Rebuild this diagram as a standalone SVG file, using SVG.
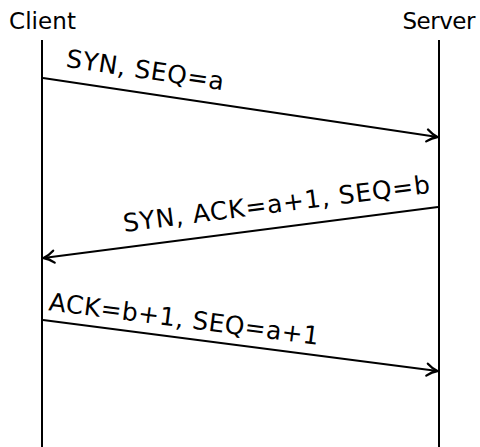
<svg xmlns="http://www.w3.org/2000/svg" width="480" height="447" viewBox="0 0 480 447">
<style>
.title{font-family:"DejaVu Sans",sans-serif;font-size:23px;fill:#000;text-anchor:middle}
.lbl{font-family:"DejaVu Sans",sans-serif;font-size:25px;fill:#000;text-anchor:middle}
.life{stroke:#000;stroke-width:2;fill:none}
.msg{stroke:#000;stroke-width:2;fill:none;marker-end:url(#arr)}
</style>
<defs>
<marker id="arr" markerUnits="userSpaceOnUse" markerWidth="18" markerHeight="18" viewBox="-14 -9 16 18" refX="0" refY="0" orient="auto">
<path d="M-10.5,-6 C-6.5,-2.6 -2.8,-0.8 0,0 C-2.8,0.8 -6.5,2.6 -10.5,6" fill="none" stroke="#000" stroke-width="2.3" stroke-linecap="round" stroke-linejoin="round"/>
</marker>
</defs>
<g id="client">
<text class="title" x="42.5" y="29" textLength="67" lengthAdjust="spacing">Client</text>
<line class="life" x1="42" y1="40" x2="42" y2="447"/>
</g>
<g id="server">
<text class="title" x="439" y="29" textLength="73" lengthAdjust="spacing">Server</text>
<line class="life" x1="439" y1="40" x2="439" y2="447"/>
</g>
<g id="connectors">
<line class="msg" x1="43" y1="78" x2="437.5" y2="137"/>
<line class="msg" x1="438" y1="207" x2="43.5" y2="258"/>
<line class="msg" x1="43" y1="320" x2="437.5" y2="371"/>
</g>
<g id="labels">
<text class="lbl" x="144" y="78.5" transform="rotate(8.45 144 78.5)" textLength="159" lengthAdjust="spacing">SYN, SEQ=a</text>
<text class="lbl" x="277.5" y="212.3" transform="rotate(-7.32 277.5 212.3)" textLength="309" lengthAdjust="spacing">SYN, ACK=a+1, SEQ=b</text>
<text class="lbl" x="183" y="327.5" transform="rotate(7.32 183 327.5)" textLength="272" lengthAdjust="spacing">ACK=b+1, SEQ=a+1</text>
</g>
</svg>
